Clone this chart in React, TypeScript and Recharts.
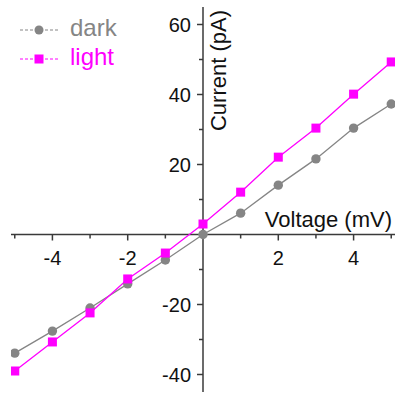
import React from 'react';
import { ComposedChart, Line, XAxis, YAxis, ReferenceLine, ReferenceDot } from 'recharts';

const voltage = [-5, -4, -3, -2, -1, 0, 1, 2, 3, 4, 5];
const darkCurrent = [-33.9, -27.6, -21.0, -14.1, -7.3, 0.0, 6.1, 14.1, 21.6, 30.4, 37.3];
const lightCurrent = [-39.0, -30.7, -22.4, -12.7, -5.3, 3.0, 12.1, 22.1, 30.4, 40.1, 49.3];
const xTicks = [-5, -4, -3, -2, -1, 1, 2, 3, 4, 5];
const xTickLabels = [-4, -2, 2, 4];
const yTicks = [-40, -30, -20, -10, 10, 20, 30, 40, 50, 60];
const yTickLabels = [-40, -20, 20, 40, 60];
const seriesNames = ['dark', 'light'];
const xLabel = 'Voltage (mV)';
const yLabel = 'Current (pA)';

const data = voltage.map((v, i) => ({ v, dark: darkCurrent[i], light: lightCurrent[i] }));

const AXIS = '#3a3a3a';
const DARK = '#858585';
const LIGHT = '#ff00ff';
const FONT = '"Liberation Sans", Arial, sans-serif';

const SquareDot = (props: any) => {
  const { cx, cy } = props;
  if (cx == null || cy == null) return null;
  return <rect x={cx - 4.5} y={cy - 4.5} width={9} height={9} fill={LIGHT} />;
};

const CircleDot = (props: any) => {
  const { cx, cy } = props;
  if (cx == null || cy == null) return null;
  return <circle cx={cx} cy={cy} r={4.7} fill={DARK} />;
};

const LegendBox = () => (
  <svg width={140} height={80} style={{ display: 'block', position: 'absolute', left: 0, top: 0 }}>
    <line x1={20} y1={30} x2={58} y2={30} stroke={DARK} strokeWidth={1} strokeDasharray="3 2" />
    <circle cx={39} cy={30} r={4.5} fill={DARK} />
    <text x={70} y={36} fontSize={24} fill={DARK} fontFamily={FONT}>{seriesNames[0]}</text>
    <line x1={20} y1={59} x2={58} y2={59} stroke={LIGHT} strokeWidth={1} strokeDasharray="3 2" />
    <rect x={34.5} y={54.5} width={9} height={9} fill={LIGHT} />
    <text x={70} y={65} fontSize={24} fill={LIGHT} fontFamily={FONT}>{seriesNames[1]}</text>
  </svg>
);

export default function App() {
  return (
    <div style={{ position: 'absolute', left: 0, top: 0, width: 395, height: 394, background: '#fff' }}>
      <ComposedChart width={395} height={394} data={data} margin={{ top: 7, right: 0, bottom: 2, left: 11 }}>
        <XAxis dataKey="v" type="number" domain={[-5.1, 5.1]} hide allowDataOverflow />
        <YAxis type="number" domain={[-45, 65]} hide allowDataOverflow />
        <ReferenceLine y={0} stroke={AXIS} strokeWidth={1.5} ifOverflow="visible" />
        <ReferenceLine x={0} stroke={AXIS} strokeWidth={1.5} ifOverflow="visible" />
        {xTicks.map((t) => (
          <ReferenceDot
            key={'xt' + t}
            x={t}
            y={0}
            r={0}
            ifOverflow="visible"
            shape={(p: any) => {
              const major = xTickLabels.includes(t);
              return (
                <g>
                  <line x1={p.cx} y1={p.cy} x2={p.cx} y2={p.cy + (major ? 6 : 4)} stroke={AXIS} strokeWidth={1.5} />
                  {major && (
                    <text x={p.cx} y={p.cy + 30} textAnchor="middle" fontSize={20} fill="#111" fontFamily={FONT}>
                      {t}
                    </text>
                  )}
                </g>
              );
            }}
          />
        ))}
        {yTicks.map((t) => (
          <ReferenceDot
            key={'yt' + t}
            x={0}
            y={t}
            r={0}
            ifOverflow="visible"
            shape={(p: any) => {
              const major = yTickLabels.includes(t);
              return (
                <g>
                  <line x1={p.cx} y1={p.cy} x2={p.cx - (major ? 6 : 4)} y2={p.cy} stroke={AXIS} strokeWidth={1.5} />
                  {major && (
                    <text x={p.cx - 12} y={p.cy + 7.5} textAnchor="end" fontSize={20} fill="#111" fontFamily={FONT}>
                      {t}
                    </text>
                  )}
                </g>
              );
            }}
          />
        ))}
        <ReferenceDot
          x={5.1}
          y={0}
          r={0}
          ifOverflow="visible"
          shape={(p: any) => (
            <text x={p.cx - 3} y={p.cy - 8} textAnchor="end" fontSize={22} fill="#111" fontFamily={FONT}>
              {xLabel}
            </text>
          )}
        />
        <ReferenceDot
          x={0}
          y={65}
          r={0}
          ifOverflow="visible"
          shape={(p: any) => (
            <text
              x={p.cx + 23}
              y={p.cy + 3}
              transform={`rotate(-90, ${p.cx + 23}, ${p.cy + 3})`}
              textAnchor="end"
              fontSize={22}
              fill="#111"
              fontFamily={FONT}
            >
              {yLabel}
            </text>
          )}
        />
        <Line
          dataKey="dark"
          stroke={DARK}
          strokeWidth={1.3}
          dot={<CircleDot />}
          activeDot={false}
          isAnimationActive={false}
        />
        <Line
          dataKey="light"
          stroke={LIGHT}
          strokeWidth={1.3}
          dot={<SquareDot />}
          activeDot={false}
          isAnimationActive={false}
        />
      </ComposedChart>
      <LegendBox />
    </div>
  );
}
